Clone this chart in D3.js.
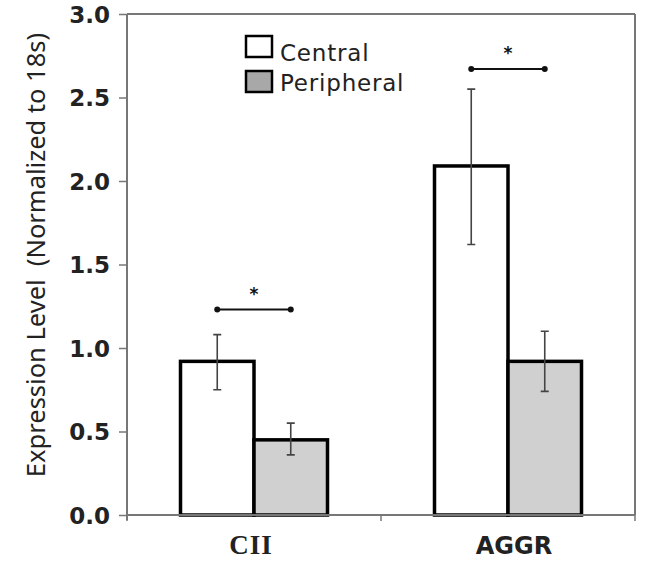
<!DOCTYPE html>
<html>
<head>
<meta charset="utf-8">
<script src="https://cdn.jsdelivr.net/npm/d3@7"></script>
<style>
  body { margin: 0; background: #fff; }
</style>
</head>
<body>
<svg id="chart" width="647" height="564"></svg>
<script>
// data
var categories = ["CII", "AGGR"];
var series = ["Central", "Peripheral"];
var centralVals = [0.92, 2.09];
var peripheralVals = [0.45, 0.92];
var centralErr = [[0.75, 1.08], [1.62, 2.55]];
var peripheralErr = [[0.36, 0.55], [0.74, 1.10]];
var sigLevel = [1.23, 2.67];
var yTicks = [0, 0.5, 1.0, 1.5, 2.0, 2.5, 3.0];

var svg = d3.select("#chart"),
    margin = {top: 14, right: 12, bottom: 49, left: 127},
    width = +svg.attr("width") - margin.left - margin.right,
    height = +svg.attr("height") - margin.top - margin.bottom,
    g = svg.append("g").attr("transform", "translate(" + margin.left + "," + margin.top + ")");

var x0 = d3.scaleBand().domain(categories).range([0, width]);
var x1 = d3.scaleBand().domain(series).range([0, 147]);
var y = d3.scaleLinear().domain([0, 3]).range([height, 0]);
var fills = {"Central": "#ffffff", "Peripheral": "#d0d0d0"};

var rows = categories.map(function(c, i) {
  return {cat: c, bars: [
    {s: "Central", v: centralVals[i], err: centralErr[i]},
    {s: "Peripheral", v: peripheralVals[i], err: peripheralErr[i]}
  ], sig: sigLevel[i]};
});

function bx(d, cat) {
  return x0(cat) + x0.bandwidth() / 2 - 73.5 + x1(d.s);
}

// frame: top and right border
g.append("line").attr("x1", 0).attr("x2", width).attr("y1", 0).attr("y2", 0)
  .attr("stroke", "#777").attr("stroke-width", 2);
g.append("line").attr("x1", width).attr("x2", width).attr("y1", 0).attr("y2", height)
  .attr("stroke", "#777").attr("stroke-width", 2);

// bars
var grp = g.selectAll(".grp").data(rows).enter().append("g").attr("class", "grp");

grp.selectAll("rect").data(function(d) { return d.bars.map(function(b) { b.cat = d.cat; return b; }); })
  .enter().append("rect")
    .attr("x", function(d) { return bx(d, d.cat); })
    .attr("y", function(d) { return y(d.v); })
    .attr("width", x1.bandwidth())
    .attr("height", function(d) { return height - y(d.v); })
    .attr("fill", function(d) { return fills[d.s]; })
    .attr("stroke", "#000")
    .attr("stroke-width", 3.5);

// error bars
grp.selectAll(".err").data(function(d) { return d.bars; })
  .enter().append("path")
    .attr("class", "err")
    .attr("fill", "none")
    .attr("stroke", "#444")
    .attr("stroke-width", 1.6)
    .attr("d", function(d) {
      var cx = bx(d, d.cat) + x1.bandwidth() / 2, lo = y(d.err[0]), hi = y(d.err[1]);
      return "M" + (cx - 4) + "," + hi + "H" + (cx + 4) +
             "M" + cx + "," + hi + "V" + lo +
             "M" + (cx - 4) + "," + lo + "H" + (cx + 4);
    });

// significance brackets
grp.each(function(d) {
  var gg = d3.select(this);
  var xa = bx(d.bars[0], d.cat) + x1.bandwidth() / 2,
      xb = bx(d.bars[1], d.cat) + x1.bandwidth() / 2,
      yy = y(d.sig);
  gg.append("line").attr("x1", xa).attr("x2", xb).attr("y1", yy).attr("y2", yy)
    .attr("stroke", "#111").attr("stroke-width", 2);
  gg.selectAll(".dot").data([xa, xb]).enter().append("circle")
    .attr("cx", function(v) { return v; }).attr("cy", yy).attr("r", 3).attr("fill", "#111");
  gg.append("text").attr("x", (xa + xb) / 2).attr("y", yy - 10)
    .attr("text-anchor", "middle").attr("font-family", "DejaVu Sans").attr("font-size", 17)
    .attr("font-weight", "bold").attr("fill", "#111").text("*");
});

// y axis
var yAxis = d3.axisLeft(y).tickValues(yTicks).tickFormat(d3.format(".1f")).tickSize(8).tickPadding(9);
g.append("g").call(yAxis).call(function(a) {
  a.select(".domain").attr("stroke", "#777").attr("stroke-width", 2).attr("d", "M0,0V" + (height + 5));
  a.selectAll(".tick line").attr("stroke", "#777").attr("stroke-width", 1.5);
  a.selectAll(".tick text").attr("font-family", "DejaVu Sans").attr("font-weight", "bold")
    .attr("font-size", 23).attr("fill", "#222").attr("dy", "0.36em");
});

// x axis
g.append("g").attr("transform", "translate(0," + height + ")")
  .call(function(a) {
    a.append("line").attr("x1", 0).attr("x2", width).attr("stroke", "#777").attr("stroke-width", 2);
    a.selectAll(".xt").data([0, x0.step(), width]).enter().append("line")
      .attr("x1", function(v) { return v; }).attr("x2", function(v) { return v; })
      .attr("y1", 0).attr("y2", 6).attr("stroke", "#777").attr("stroke-width", 1.5);
    a.selectAll(".xl").data(categories).enter().append("text")
      .attr("x", function(c) { return x0(c) + x0.bandwidth() / 2 + (c === "AGGR" ? 6 : -3); })
      .attr("y", 39)
      .attr("text-anchor", "middle")
      .attr("font-family", function(c) { return c === "CII" ? "Liberation Serif" : "DejaVu Sans"; })
      .attr("font-weight", "bold")
      .attr("font-size", function(c) { return c === "CII" ? 27 : 24; })
      .attr("letter-spacing", function(c) { return c === "CII" ? 1 : 0; })
      .attr("fill", "#222")
      .text(function(c) { return c; });
  });

// y title
svg.append("text")
  .attr("transform", "translate(45,255) rotate(-90)")
  .attr("text-anchor", "middle")
  .attr("font-family", "Noto Sans")
  .attr("font-size", 25.5)
  .attr("fill", "#222")
  .style("white-space", "pre")
  .text("Expression Level  (Normalized to 18s)");

// legend
var legend = svg.append("g").attr("transform", "translate(246,36)");
var li = legend.selectAll("g").data(series).enter().append("g")
  .attr("transform", function(d, i) { return "translate(0," + (i * 35) + ")"; });
li.append("rect").attr("width", 26).attr("height", 21)
  .attr("fill", function(d) { return fills[d] === "#d0d0d0" ? "#a8a8a8" : "#fff"; })
  .attr("stroke", "#000").attr("stroke-width", 2.5);
li.append("text").attr("x", 34).attr("y", function(d, i) { return i === 0 ? 25 : 20; })
  .attr("font-family", "DejaVu Sans").attr("font-size", 23).attr("letter-spacing", 0.8)
  .attr("fill", "#222").text(function(d) { return d; });
</script>
</body>
</html>
